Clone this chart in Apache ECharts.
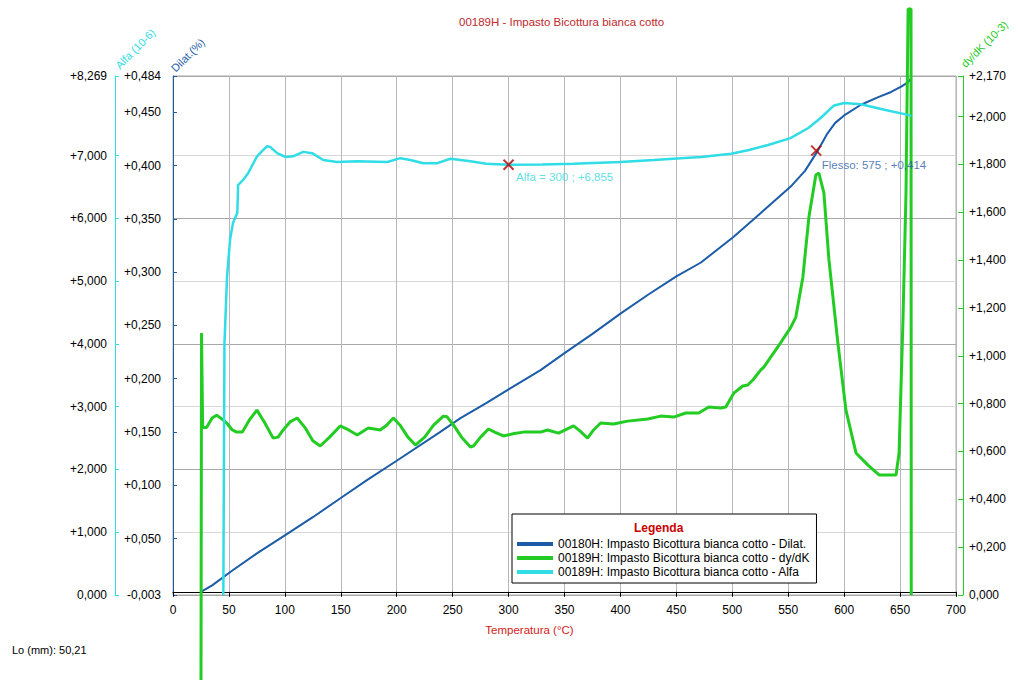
<!DOCTYPE html>
<html>
<head>
<meta charset="utf-8">
<title>00189H - Impasto Bicottura bianca cotto</title>
<script src="https://cdn.jsdelivr.net/npm/echarts@6.0.0/dist/echarts.min.js"></script>
<style>
    html, body { margin: 0; padding: 0; background: #fff; }
    #Dilato-Chart { width: 1018px; height: 680px; }
</style>
</head>
<body>
<div id="Dilato-Chart"></div>
<script>
// nomi delle curve in legenda
const serieNames = [
    '00180H: Impasto Bicottura bianca cotto - Dilat.',
    '00189H: Impasto Bicottura bianca cotto - dy/dK',
    '00189H: Impasto Bicottura bianca cotto - Alfa'
]

// Dilat. (%) in funzione della temperatura (°C)
const dilatTemp = [25, 35, 53.7, 75, 100, 125, 150, 173.7, 200, 239, 257, 280, 300, 328.6, 350, 375, 400, 425, 450, 472, 501, 525, 552, 565, 576.5, 585, 592, 600, 615, 630, 642, 651, 657, 660]
const dilatVal = [0.000, 0.006, 0.0205, 0.036, 0.053, 0.070, 0.088, 0.105, 0.123, 0.150, 0.163, 0.177, 0.190, 0.208, 0.224, 0.242, 0.261, 0.279, 0.296, 0.309, 0.333, 0.355, 0.380, 0.395, 0.414, 0.430, 0.440, 0.447, 0.457, 0.464, 0.469, 0.474, 0.478, 0.482]

// dy/dK (10-3)
const dydkTemp = [25, 25.5, 26.5, 30, 35, 39, 44, 48, 53, 57, 62, 68, 75, 82, 89.5, 94, 98.5, 105, 111, 118, 125, 131.6, 140, 149.5, 157, 164.7, 174.6, 185.3, 191, 197, 203, 210, 216.7, 225, 233, 241.7, 245, 250.7, 258, 265.9, 268.6, 275, 282, 288, 295.4, 305, 313.3, 328.6, 334.8, 344.7, 358.1, 364, 370.6, 376, 382.3, 393.9, 406.4, 424.4, 436, 447.6, 458.4, 470, 479, 489.7, 494.2, 501.3, 509.4, 513.9, 518.4, 525.5, 528.2, 540.7, 552.4, 556.8, 563.1, 568.5, 574.7, 577.4, 581.9, 586.4, 594.4, 601.6, 610.6, 621.3, 631.2, 646.4, 649.1, 652.6, 655.3, 657.2, 659.8, 660]
const dydkVal = [-0.5, 1.095, 0.70, 0.70, 0.74, 0.752, 0.735, 0.719, 0.69, 0.681, 0.681, 0.73, 0.773, 0.72, 0.656, 0.66, 0.69, 0.725, 0.74, 0.70, 0.645, 0.623, 0.66, 0.707, 0.69, 0.669, 0.698, 0.690, 0.71, 0.740, 0.71, 0.66, 0.627, 0.66, 0.71, 0.748, 0.745, 0.711, 0.66, 0.619, 0.623, 0.66, 0.694, 0.68, 0.665, 0.675, 0.681, 0.681, 0.690, 0.677, 0.707, 0.685, 0.656, 0.69, 0.719, 0.715, 0.727, 0.736, 0.748, 0.744, 0.761, 0.761, 0.786, 0.782, 0.786, 0.844, 0.874, 0.878, 0.899, 0.941, 0.953, 1.037, 1.120, 1.162, 1.329, 1.580, 1.756, 1.764, 1.681, 1.401, 1.054, 0.773, 0.594, 0.543, 0.502, 0.502, 0.594, 1.150, 1.681, 2.45, 2.45, 0.0]

// Alfa (10-6)
const alfaTemp = [45, 46, 48.3, 51, 53.7, 57.5, 58.2, 63, 67.1, 75.2, 80, 84.2, 86.8, 93.1, 100.3, 107.4, 116.4, 124.4, 134.3, 146.8, 164.7, 191.6, 203.2, 212.2, 223.8, 236.3, 248, 265.9, 280, 300, 330, 358, 400, 430, 454, 472, 499, 515, 532, 552, 568, 579, 591, 600, 615, 636, 657, 660]
const alfaVal = [0, 4.0, 5.07, 5.66, 5.93, 6.09, 6.53, 6.62, 6.72, 6.99, 7.08, 7.15, 7.14, 7.04, 6.98, 6.99, 7.06, 7.04, 6.93, 6.90, 6.91, 6.90, 6.96, 6.93, 6.88, 6.88, 6.95, 6.91, 6.87, 6.855, 6.86, 6.87, 6.90, 6.93, 6.96, 6.98, 7.03, 7.09, 7.17, 7.28, 7.44, 7.60, 7.80, 7.84, 7.82, 7.73, 7.65, 7.63]

// punti notevoli
const alfaPoint = [300, 6.855]
const flessoPoint = [575, 0.414]

// tacche degli assi
const dilatTicks = [-0.003, 0.05, 0.1, 0.15, 0.2, 0.25, 0.3, 0.35, 0.4, 0.45, 0.484]
const alfaTicks = [0, 1, 2, 3, 4, 5, 6, 7, 8.269]
const dydkTicks = [0, 0.2, 0.4, 0.6, 0.8, 1.0, 1.2, 1.4, 1.6, 1.8, 2.0, 2.17]

const FONT = "'Liberation Sans', Arial, sans-serif"

function fmt(v) {
    // formato italiano con segno: +0,450
    var s = Math.abs(v).toFixed(3).replace('.', ',');
    if (v > 0) return '+' + s;
    if (v < 0) return '-' + s;
    return s;
}

function zip(xs, ys) {
    return xs.map(function (x, i) { return [x, ys[i]]; });
}

function drawDilatoChart() {
    var dom = document.getElementById('Dilato-Chart');
    var myChart = echarts.init(dom, null, {
        renderer: 'svg',
        useDirtyRect: false
    });
    var option;

    option = {
        animation: false,
        backgroundColor: '#fff',
        textStyle: { fontFamily: FONT },
        title: [
            {
                text: '00189H - Impasto Bicottura bianca cotto',
                left: 459,
                top: 16,
                padding: 0,
                textStyle: { color: '#c0282d', fontSize: 11.5, fontWeight: 'normal', fontFamily: FONT }
            },
            {
                text: 'Legenda',
                left: 634,
                top: 522,
                padding: 0,
                z: 10,
                textStyle: { color: '#cc0000', fontSize: 12, fontWeight: 'bold', fontFamily: FONT }
            },
            {
                text: 'Lo (mm): 50,21',
                left: 12,
                top: 644,
                padding: 0,
                textStyle: { color: '#000', fontSize: 11, fontWeight: 'normal', fontFamily: FONT }
            }
        ],
        legend: {
            data: serieNames,
            orient: 'vertical',
            left: 512,
            top: 514,
            padding: [24, 7, 5, 5],
            itemGap: 2,
            itemWidth: 36,
            itemHeight: 4,
            icon: 'rect',
            selectedMode: false,
            backgroundColor: '#fff',
            borderColor: '#000',
            borderWidth: 1,
            borderRadius: 0,
            textStyle: { color: '#000', fontSize: 12, fontFamily: FONT }
        },
        grid: {
            left: 173,
            right: 62,
            top: 76,
            bottom: 85,
            show: true,
            backgroundColor: '#fff',
            borderColor: '#a8a8a8',
            borderWidth: 1
        },
        xAxis: {
            type: 'value',
            min: 0,
            max: 700,
            interval: 50,
            name: 'Temperatura (°C)',
            nameLocation: 'middle',
            nameGap: 29,
            nameTextStyle: { color: '#d42020', fontSize: 11.5, padding: [0, 70, 0, 0] },
            axisLine: { show: true, lineStyle: { color: '#000', width: 1 } },
            axisTick: { show: true, length: 5, lineStyle: { color: '#000' } },
            axisLabel: { color: '#000', fontSize: 12, margin: 9 },
            splitLine: { show: true, lineStyle: { color: '#b6b6c4', width: 1 } }
        },
        yAxis: [
            {
                // Dilat. (%)
                type: 'value',
                position: 'left',
                offset: 4,
                min: -0.003,
                max: 0.484,
                name: 'Dilat.(%)',
                nameLocation: 'end',
                nameRotate: 45,
                nameGap: 6,
                nameTextStyle: { color: '#1c5ca8', fontSize: 11 },
                axisLine: { show: true, lineStyle: { color: '#1c5ca8', width: 1 } },
                axisTick: { show: true, inside: true, length: 4, customValues: dilatTicks, lineStyle: { color: '#1c5ca8' } },
                axisLabel: { color: '#000', fontSize: 12, margin: 8, customValues: dilatTicks, formatter: fmt },
                splitLine: { show: false }
            },
            {
                // Alfa (10-6)
                type: 'value',
                position: 'left',
                offset: 58,
                min: 0,
                max: 8.269,
                name: 'Alfa (10-6)',
                nameLocation: 'end',
                nameRotate: 45,
                nameGap: 7,
                nameTextStyle: { color: '#30dde6', fontSize: 11, padding: [0, 0, 0, 3] },
                axisLine: { show: true, lineStyle: { color: '#30dde6', width: 1 } },
                axisTick: { show: true, inside: true, length: 4, customValues: alfaTicks, lineStyle: { color: '#30dde6' } },
                axisLabel: { color: '#000', fontSize: 12, margin: 8, customValues: alfaTicks, formatter: fmt },
                splitLine: { show: true, lineStyle: { color: ['#a8a8a8', '#d8d8d8'], width: 1 } }
            },
            {
                // dy/dK (10-3)
                type: 'value',
                position: 'right',
                offset: 7,
                min: 0,
                max: 2.17,
                name: 'dy/dK (10-3)',
                nameLocation: 'end',
                nameRotate: 45,
                nameGap: 6,
                nameTextStyle: { color: '#22cc22', fontSize: 11 },
                axisLine: { show: true, lineStyle: { color: '#22cc22', width: 1 } },
                axisTick: { show: true, inside: true, length: 5, customValues: dydkTicks, lineStyle: { color: '#22cc22' } },
                axisLabel: { color: '#000', fontSize: 12, margin: 6, customValues: dydkTicks, formatter: fmt },
                splitLine: { show: false }
            }
        ],
        series: [
            {
                name: serieNames[0],
                type: 'line',
                yAxisIndex: 0,
                showSymbol: false,
                color: '#1c5ca8',
                lineStyle: { width: 2 },
                data: zip(dilatTemp, dilatVal)
            },
            {
                name: serieNames[1],
                type: 'line',
                yAxisIndex: 2,
                showSymbol: false,
                clip: false,
                color: '#22cc22',
                lineStyle: { width: 3 },
                data: zip(dydkTemp, dydkVal)
            },
            {
                name: serieNames[2],
                type: 'line',
                yAxisIndex: 1,
                showSymbol: false,
                color: '#30dde6',
                lineStyle: { width: 2.5 },
                data: zip(alfaTemp, alfaVal)
            },
            {
                name: 'Alfa',
                type: 'scatter',
                yAxisIndex: 1,
                symbol: 'path://M0,0L10,10M10,0L0,10',
                symbolSize: 10,
                itemStyle: { color: 'none', borderColor: '#b00000', borderWidth: 2 },
                label: {
                    show: true,
                    position: [15, 20],
                    align: 'left',
                    verticalAlign: 'middle',
                    color: '#30d8e0',
                    fontSize: 11.5,
                    formatter: 'Alfa = ' + alfaPoint[0] + ' ; ' + fmt(alfaPoint[1])
                },
                z: 5,
                data: [alfaPoint]
            },
            {
                name: 'Flesso',
                type: 'scatter',
                yAxisIndex: 0,
                symbol: 'path://M0,0L10,10M10,0L0,10',
                symbolSize: 10,
                itemStyle: { color: 'none', borderColor: '#b00000', borderWidth: 2 },
                label: {
                    show: true,
                    position: [13, 22],
                    align: 'left',
                    verticalAlign: 'middle',
                    color: '#2a5ca8',
                    fontSize: 11.5,
                    formatter: 'Flesso: ' + flessoPoint[0] + ' ; ' + fmt(flessoPoint[1])
                },
                z: 5,
                data: [flessoPoint]
            }
        ]
    };

    if (option && typeof option === 'object') {
        myChart.setOption(option);
    }

    window.addEventListener('resize', myChart.resize);
}

drawDilatoChart();
</script>
</body>
</html>
